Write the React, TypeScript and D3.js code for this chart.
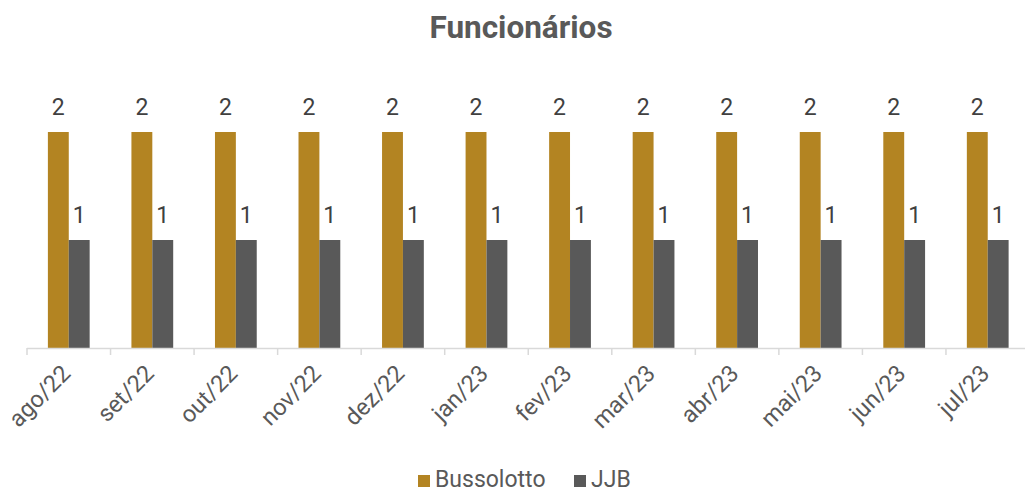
import React, { useEffect, useRef } from "react";
import * as d3 from "d3";

const categories = ["ago/22", "set/22", "out/22", "nov/22", "dez/22", "jan/23", "fev/23", "mar/23", "abr/23", "mai/23", "jun/23", "jul/23"];
const bussolotto = [2, 2, 2, 2, 2, 2, 2, 2, 2, 2, 2, 2];
const jjb = [1, 1, 1, 1, 1, 1, 1, 1, 1, 1, 1, 1];
const seriesNames = ["Bussolotto", "JJB"];
const seriesColors = ["#B38422", "#595959"];
const title = "Funcionários";

const W = 1025;
const H = 493;

export default function App() {
  const ref = useRef<SVGSVGElement>(null);
  useEffect(() => {
    const svg = d3.select(ref.current);
    svg.selectAll("*").remove();
    const font = "Roboto, sans-serif";
    const left = 27, right = 1029.5, top = 132, bottom = 348;

    const x = d3.scaleBand<string>().domain(categories).range([left, right]).paddingInner(0).paddingOuter(0);
    const inner = d3.scaleBand<string>().domain(seriesNames).range([x.bandwidth() / 4, (x.bandwidth() * 3) / 4]);
    const y = d3.scaleLinear().domain([0, 2]).range([bottom, top]);

    svg.append("text").attr("x", 521).attr("y", 38).attr("text-anchor", "middle")
      .attr("font-family", font).attr("font-weight", "bold").attr("font-size", 31.5).attr("fill", "#595959").text(title);

    const data = [bussolotto, jjb];
    data.forEach((vals, si) => {
      const g = svg.append("g");
      g.selectAll("rect").data(vals).join("rect")
        .attr("x", (_, i) => (x(categories[i]) as number) + (inner(seriesNames[si]) as number))
        .attr("width", inner.bandwidth())
        .attr("y", (d) => y(d))
        .attr("height", (d) => y(0) - y(d))
        .attr("fill", seriesColors[si]);
      g.selectAll("text").data(vals).join("text")
        .attr("x", (_, i) => (x(categories[i]) as number) + (inner(seriesNames[si]) as number) + inner.bandwidth() / 2)
        .attr("y", (d) => y(d) - 17)
        .attr("text-anchor", "middle")
        .attr("font-family", font).attr("font-size", 23).attr("fill", "#404040")
        .text((d) => String(d));
    });

    // axis
    const ax = svg.append("g");
    ax.append("line").attr("x1", left).attr("x2", W).attr("y1", bottom + 0.5).attr("y2", bottom + 0.5)
      .attr("stroke", "#D9D9D9").attr("stroke-width", 1.5);
    const ticks = categories.map((c) => x(c) as number);
    ax.selectAll("line.tick").data(ticks).join("line").attr("class", "tick")
      .attr("x1", (d) => d).attr("x2", (d) => d).attr("y1", bottom).attr("y2", bottom + 7)
      .attr("stroke", "#D9D9D9").attr("stroke-width", 1.5);
    ax.selectAll("text").data(categories).join("text")
      .attr("transform", (c) => `translate(${(x(c) as number) + x.bandwidth() / 2 + 3},${bottom + 27}) rotate(-45)`)
      .attr("text-anchor", "end")
      .attr("font-family", font).attr("font-size", 23.5).attr("fill", "#595959")
      .text((c) => c);

    // legend
    const lg = svg.append("g");
    const items = [
      { name: seriesNames[0], color: seriesColors[0], x: 418 },
      { name: seriesNames[1], color: seriesColors[1], x: 574 },
    ];
    items.forEach((it) => {
      lg.append("rect").attr("x", it.x).attr("y", 475).attr("width", 12).attr("height", 12).attr("fill", it.color);
      lg.append("text").attr("x", it.x + 17).attr("y", 487).attr("font-family", font).attr("font-size", 23)
        .attr("fill", "#595959").text(it.name);
    });
  }, []);
  return (
    <svg ref={ref} width={W} height={H} style={{ position: "absolute", left: 0, top: 0, background: "#fff" }} />
  );
}
